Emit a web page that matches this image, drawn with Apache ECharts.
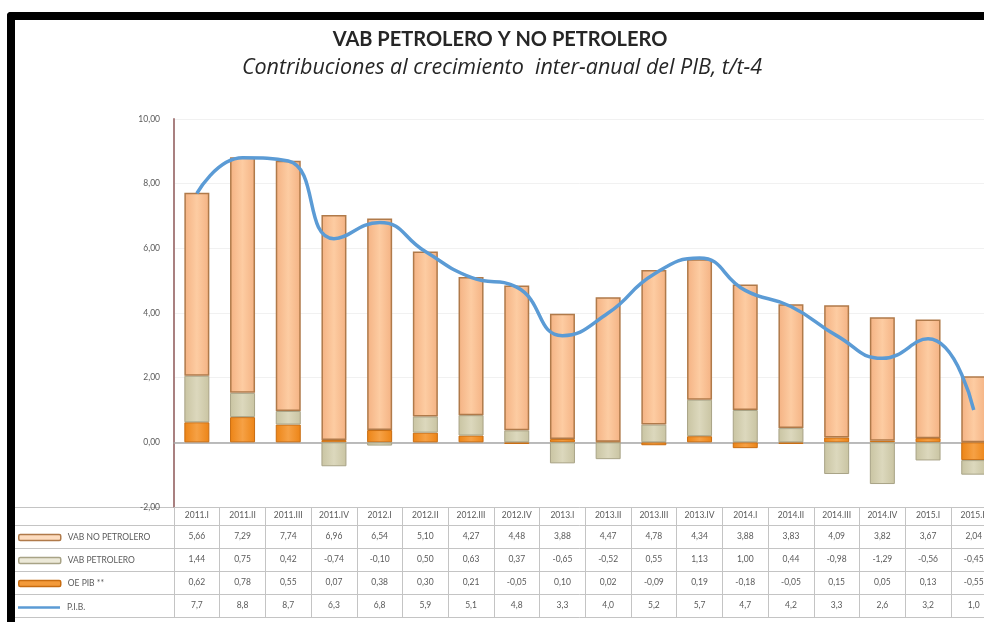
<!DOCTYPE html>
<html>
<head>
<meta charset="utf-8">
<script src="https://cdn.jsdelivr.net/npm/echarts@6/dist/echarts.min.js"></script>
<style>
  html, body { margin: 0; padding: 0; background: #fff; overflow: hidden; }
  #chart { width: 984px; height: 622px; }
</style>
</head>
<body>
<div id="chart"></div>
<script>
const categories = ['2011.I', '2011.II', '2011.III', '2011.IV', '2012.I', '2012.II', '2012.III', '2012.IV',
  '2013.I', '2013.II', '2013.III', '2013.IV', '2014.I', '2014.II', '2014.III', '2014.IV', '2015.I', '2015.II'];
const vabNoPetrolero = [5.66, 7.29, 7.74, 6.96, 6.54, 5.10, 4.27, 4.48, 3.88, 4.47, 4.78, 4.34, 3.88, 3.83, 4.09, 3.82, 3.67, 2.04];
const vabPetrolero = [1.44, 0.75, 0.42, -0.74, -0.10, 0.50, 0.63, 0.37, -0.65, -0.52, 0.55, 1.13, 1.00, 0.44, -0.98, -1.29, -0.56, -0.45];
const oePib = [0.62, 0.78, 0.55, 0.07, 0.38, 0.30, 0.21, -0.05, 0.10, 0.02, -0.09, 0.19, -0.18, -0.05, 0.15, 0.05, 0.13, -0.55];
const pib = [7.7, 8.8, 8.7, 6.3, 6.8, 5.9, 5.1, 4.8, 3.3, 4.0, 5.2, 5.7, 4.7, 4.2, 3.3, 2.6, 3.2, 1.0];

const NAME_NO = 'VAB NO PETROLERO';
const NAME_PET = 'VAB PETROLERO';
const NAME_OE = 'OE PIB **';
const NAME_PIB = 'P.I.B.';

const fmt = (v, d) => v.toFixed(d).replace('.', ',');

const gel = (edge, mid) => ({
  type: 'linear', x: 0, y: 0, x2: 1, y2: 0,
  colorStops: [
    { offset: 0, color: edge },
    { offset: 0.5, color: mid },
    { offset: 1, color: edge },
  ],
});

const styles = {
  no: { color: gel('#f4b283', '#fdcca2'), borderColor: '#b07a4a', borderWidth: 1.5 },
  pet: { color: gel('#c9c4a2', '#dcd8bd'), borderColor: '#a8a386', borderWidth: 1 },
  oe: { color: gel('#ec8416', '#f6a145'), borderColor: '#c86c10', borderWidth: 1 },
};

const GRID_LEFT = 174;
const GRID_TOP = 119;
const GRID_BOTTOM_Y = 507;
const COL_W = 45.7;
const TABLE_LINE = '#c4c4c4';
const TABLE_TEXT = '#5a5a5a';

// rows of the data table under the plot
const rows = [
  { values: categories, h: 18, fmt: (v) => v },
  { values: vabNoPetrolero, h: 23, fmt: (v) => fmt(v, 2) },
  { values: vabPetrolero, h: 23, fmt: (v) => fmt(v, 2) },
  { values: oePib, h: 23, fmt: (v) => fmt(v, 2) },
  { values: pib, h: 23, fmt: (v) => fmt(v, 1) },
];

const tableAxes = [];
const rowTops = [];
let off = 0;
rows.forEach((r) => {
  rowTops.push(GRID_BOTTOM_Y + off);
  tableAxes.push({
    type: 'category',
    data: categories,
    position: 'bottom',
    offset: off,
    axisLine: { show: true, onZero: false, lineStyle: { color: TABLE_LINE, width: 1 } },
    axisTick: { show: true, interval: 0, length: r.h, lineStyle: { color: TABLE_LINE, width: 1 } },
    axisLabel: {
      show: true, interval: 0, hideOverlap: false,
      margin: r.h === 18 ? 4 : 7,
      fontFamily: 'Lato', fontSize: 8.5, color: TABLE_TEXT,
      formatter: (val, idx) => r.fmt(r.values[idx]),
    },
    splitLine: { show: false },
  });
  off += r.h;
});
rowTops.push(GRID_BOTTOM_Y + off);
// closing line of the table
tableAxes.push({
  type: 'category', data: categories, position: 'bottom', offset: off,
  axisLine: { show: true, onZero: false, lineStyle: { color: TABLE_LINE } },
  axisTick: { show: false }, axisLabel: { show: false },
});

const legendNames = [NAME_NO, NAME_PET, NAME_OE, NAME_PIB];
const legendBorder = ['#b07a4a', '#a8a386', '#c86c10', null];
const legendFill = ['#fddcbf', '#ece9d8', '#f39a3a', '#5b9bd5'];
const legends = legendNames.map((name, i) => {
  const isLine = !legendBorder[i];
  const item = {
    name,
    icon: isLine ? 'rect' : 'roundRect',
    itemStyle: isLine
      ? { color: legendFill[i], borderWidth: 0 }
      : { color: legendFill[i], borderColor: legendBorder[i], borderWidth: 1.5 },
  };
  return {
    data: [item],
    left: 18,
    top: rowTops[i + 1] + (isLine ? 9 : 8),
    padding: 0,
    orient: 'vertical',
    selectedMode: false,
    itemWidth: 42,
    itemHeight: isLine ? 2.5 : 6,
    textStyle: { fontFamily: 'Lato', fontSize: 8.5, color: TABLE_TEXT, padding: [0, 0, 0, 2] },
  };
});

// left-hand part of the table grid
const leftLines = rowTops.map((y) => ({
  type: 'line',
  shape: { x1: 15, y1: y + 0.5, x2: GRID_LEFT, y2: y + 0.5 },
  style: { stroke: TABLE_LINE, lineWidth: 1 },
  silent: true,
}));

const chart = echarts.init(document.getElementById('chart'));
chart.setOption({
  backgroundColor: '#fff',
  animation: false,
  title: [
    {
      text: 'VAB PETROLERO Y NO PETROLERO',
      left: 495, top: 25, textAlign: 'center',
      textStyle: { fontFamily: 'Lato', fontWeight: 'bold', fontSize: 20, color: '#262626' },
    },
    {
      text: 'Contribuciones al crecimiento  inter-anual del PIB, t/t-4',
      left: 497, top: 52, textAlign: 'center',
      textStyle: { fontFamily: 'Open Sans', fontStyle: 'italic', fontWeight: 'normal', fontSize: 21.5, color: '#262626' },
    },
  ],
  legend: legends,
  grid: {
    left: GRID_LEFT, top: GRID_TOP,
    width: COL_W * categories.length, height: GRID_BOTTOM_Y - GRID_TOP,
    outerBoundsMode: 'none',
  },
  xAxis: [
    {
      type: 'category',
      data: categories,
      position: 'bottom',
      axisLine: { show: true, onZero: true, lineStyle: { color: '#a6a6a6', width: 1.5 } },
      axisTick: { show: false },
      axisLabel: { show: false },
    },
    ...tableAxes,
  ],
  yAxis: {
    type: 'value',
    min: -2,
    max: 10,
    interval: 2,
    axisLine: { show: true, lineStyle: { color: '#a98080', width: 2 } },
    axisTick: { show: false },
    axisLabel: {
      margin: 14,
      fontFamily: 'Lato', fontSize: 8.5, color: TABLE_TEXT,
      formatter: (v) => fmt(v, 2),
    },
    splitLine: { show: true, lineStyle: { color: '#f1f1f1', width: 1 } },
  },
  series: [
    {
      name: NAME_OE, type: 'bar', stack: 'vab', barWidth: 25,
      itemStyle: styles.oe, data: oePib,
    },
    {
      name: NAME_PET, type: 'bar', stack: 'vab', barWidth: 25,
      itemStyle: styles.pet, data: vabPetrolero,
    },
    {
      name: NAME_NO, type: 'bar', stack: 'vab', barWidth: 25,
      itemStyle: styles.no, data: vabNoPetrolero,
    },
    {
      name: NAME_PIB, type: 'line', smooth: 0.5, symbol: 'none', z: 5,
      lineStyle: { color: '#5b9bd5', width: 3.5 },
      itemStyle: { color: '#5b9bd5' },
      data: pib,
    },
  ],
  graphic: [
    ...leftLines,
    // black frame
    { type: 'rect', shape: { x: 7, y: 12, width: 8, height: 610, r: [4, 0, 0, 0] }, style: { fill: '#000' }, z: 100 },
    { type: 'rect', shape: { x: 7, y: 12, width: 977, height: 8, r: [4, 0, 0, 0] }, style: { fill: '#000' }, z: 100 },
  ],
});
</script>
</body>
</html>
